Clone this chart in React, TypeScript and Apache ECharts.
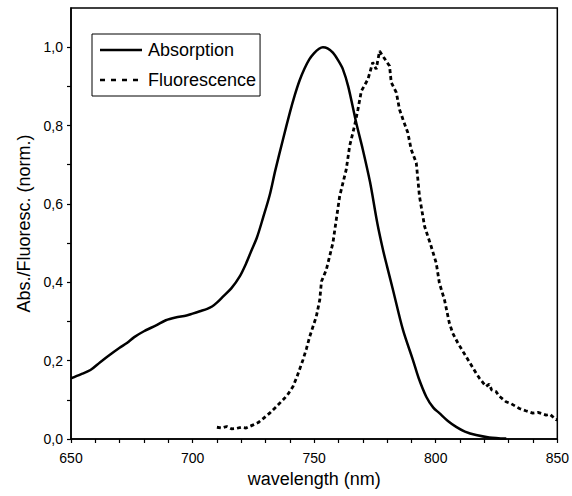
import React, { useEffect, useRef } from "react";
import * as echarts from "echarts";

const absWavelength = [650, 654, 658, 662, 666, 670, 673, 676, 680, 685, 689, 693, 697.5, 700, 703, 706, 708, 710, 712.6, 716, 719.4, 722, 724, 726.5, 729, 731.7, 734, 737.2, 740, 742, 744, 746, 748, 750, 752, 753.6, 755.5, 757.7, 760, 761.8, 764, 767.3, 770, 773, 776, 778.3, 780, 782.4, 786.5, 790.6, 793, 796.1, 799, 801.5, 805, 808.4, 812, 816.6, 822, 829];
const absValue = [0.155, 0.165, 0.176, 0.196, 0.215, 0.233, 0.245, 0.26, 0.275, 0.29, 0.303, 0.31, 0.315, 0.32, 0.326, 0.332, 0.338, 0.348, 0.364, 0.385, 0.415, 0.448, 0.478, 0.515, 0.565, 0.622, 0.685, 0.765, 0.833, 0.877, 0.915, 0.945, 0.969, 0.985, 0.996, 1.0, 0.997, 0.986, 0.965, 0.944, 0.9, 0.807, 0.739, 0.655, 0.55, 0.483, 0.44, 0.381, 0.279, 0.202, 0.155, 0.108, 0.08, 0.066, 0.046, 0.031, 0.019, 0.01, 0.004, 0.001];

const fluoWavelength = [710, 712, 714, 716, 718, 720, 722, 724.9, 727, 729, 731.7, 734, 737.2, 739, 741.3, 743, 745.4, 746.8, 748.2, 750.9, 752.3, 753, 755, 757.7, 759.1, 760.5, 763.2, 764.6, 766.6, 768, 769.4, 772.1, 774.1, 775.5, 776.9, 778.5, 779.6, 781, 781.7, 783.8, 785.1, 786.5, 788.5, 789.9, 792, 793.3, 795.4, 798.1, 800.2, 801.5, 803.6, 805.6, 807, 809.1, 812.5, 816.6, 818, 820.7, 822, 823, 824.8, 826, 828.9, 831, 834.4, 837, 839.9, 842, 845.4, 847, 849.5, 850];
const fluoValue = [0.03, 0.028, 0.032, 0.026, 0.027, 0.03, 0.028, 0.036, 0.042, 0.052, 0.066, 0.08, 0.1, 0.112, 0.134, 0.16, 0.202, 0.23, 0.262, 0.313, 0.355, 0.402, 0.432, 0.5, 0.56, 0.62, 0.688, 0.748, 0.799, 0.841, 0.888, 0.918, 0.961, 0.944, 0.99, 0.975, 0.965, 0.952, 0.91, 0.884, 0.841, 0.816, 0.782, 0.739, 0.705, 0.62, 0.543, 0.492, 0.449, 0.398, 0.355, 0.296, 0.27, 0.245, 0.21, 0.168, 0.155, 0.134, 0.14, 0.125, 0.121, 0.11, 0.095, 0.09, 0.078, 0.072, 0.066, 0.068, 0.061, 0.063, 0.049, 0.05];

const xLabelValues = [650, 700, 750, 800, 850];
const xTickValues = [650, 660, 670, 680, 690, 700, 710, 720, 730, 740, 750, 760, 770, 780, 790, 800, 810, 820, 830, 840, 850];
const yLabelValues = [0, 0.2, 0.4, 0.6, 0.8, 1.0];
const yTickValues = [0, 0.1, 0.2, 0.3, 0.4, 0.5, 0.6, 0.7, 0.8, 0.9, 1.0];

const FONT = "'Liberation Sans', Arial, sans-serif";

export default function App() {
  const ref = useRef<HTMLDivElement>(null);
  useEffect(() => {
    if (!ref.current) return;
    const chart = echarts.init(ref.current, null, { renderer: "svg" });
    chart.setOption({
      animation: false,
      backgroundColor: "#fff",
      textStyle: { fontFamily: FONT, color: "#000" },
      grid: {
        left: 71,
        right: 14,
        top: 8,
        bottom: 57,
        show: true,
        borderColor: "#000",
        borderWidth: 1.5,
      },
      legend: {
        orient: "vertical",
        left: 92,
        top: 34,
        padding: [7, 4, 7, 8],
        itemWidth: 42,
        itemHeight: 18,
        itemGap: 12,
        icon: "none",
        borderColor: "#000",
        borderWidth: 1,
        borderRadius: 0,
        backgroundColor: "#fff",
        textStyle: { fontFamily: FONT, fontSize: 18, color: "#000", padding: [0, 0, 0, 1] },
        data: ["Absorption", "Fluorescence"],
      },
      graphic: [
        {
          type: "line",
          z: 100,
          shape: { x1: 100, y1: 50, x2: 142, y2: 50 },
          style: { stroke: "#000", lineWidth: 2.5 },
        },
        {
          type: "line",
          z: 100,
          shape: { x1: 100, y1: 80, x2: 142, y2: 80 },
          style: { stroke: "#000", lineWidth: 2.5, lineDash: [5, 6] },
        },
      ],
      xAxis: {
        type: "value",
        min: 650,
        max: 850,
        interval: 50,
        name: "wavelength (nm)",
        nameLocation: "middle",
        nameGap: 27,
        nameTextStyle: { fontFamily: FONT, fontSize: 18, color: "#000" },
        axisLine: { show: true, onZero: false, lineStyle: { color: "#000", width: 1.5 } },
        axisTick: { show: true, length: 4, inside: false, customValues: xTickValues, lineStyle: { color: "#000", width: 1.2 } },
        axisLabel: { customValues: xLabelValues, fontFamily: FONT, fontSize: 14, color: "#000", margin: 12 },
        splitLine: { show: false },
      },
      yAxis: {
        type: "value",
        min: 0,
        max: 1.1,
        interval: 0.1,
        name: "Abs./Fluoresc. (norm.)",
        nameLocation: "middle",
        nameGap: 36,
        nameTextStyle: { fontFamily: FONT, fontSize: 18, color: "#000" },
        axisLine: { show: true, onZero: false, lineStyle: { color: "#000", width: 1.5 } },
        axisTick: { show: true, length: 4, inside: false, customValues: yTickValues, lineStyle: { color: "#000", width: 1.2 } },
        axisLabel: {
          customValues: yLabelValues,
          fontFamily: FONT,
          fontSize: 14,
          color: "#000",
          margin: 8,
          formatter: (v: number) => v.toFixed(1).replace(".", ","),
        },
        splitLine: { show: false },
      },
      series: [
        {
          name: "Absorption",
          type: "line",
          symbol: "none",
          showSymbol: false,
          smooth: 0.3,
          data: absWavelength.map((w, i) => [w, absValue[i]]),
          lineStyle: { color: "#000", width: 2.5, type: "solid" },
          itemStyle: { color: "#000" },
          z: 3,
        },
        {
          name: "Fluorescence",
          type: "line",
          symbol: "none",
          showSymbol: false,
          data: fluoWavelength.map((w, i) => [w, fluoValue[i]]),
          lineStyle: { color: "#000", width: 2.8, type: [4, 3] },
          itemStyle: { color: "#000" },
          z: 2,
        },
      ],
    });
    return () => chart.dispose();
  }, []);
  return (
    <div
      ref={ref}
      style={{ position: "fixed", left: 0, top: 0, width: 572, height: 496, background: "#fff" }}
    />
  );
}
